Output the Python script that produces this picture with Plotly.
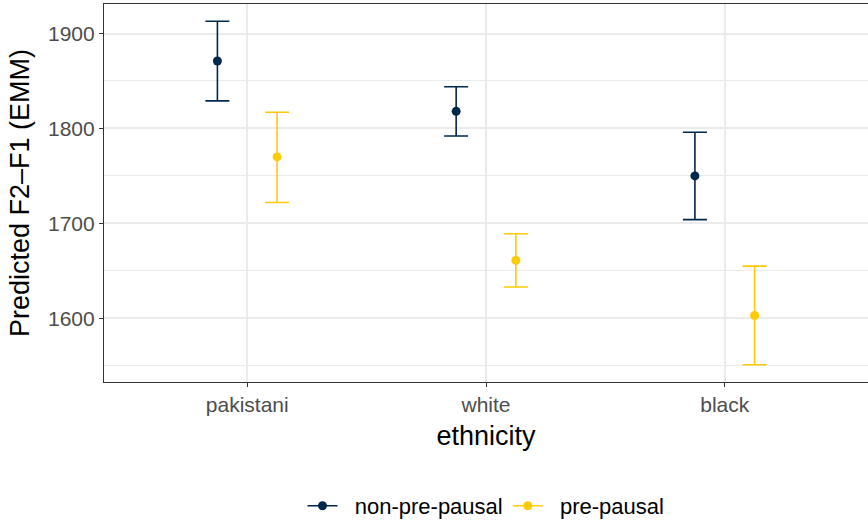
import plotly.graph_objects as go

categories = ["pakistani", "white", "black"]
groups = ["non-pre-pausal", "pre-pausal"]
emm = {
    "non-pre-pausal": [1871, 1818, 1750],
    "pre-pausal": [1770, 1661, 1603],
}
lower = {
    "non-pre-pausal": [1829, 1792, 1704],
    "pre-pausal": [1722, 1633, 1551],
}
upper = {
    "non-pre-pausal": [1913, 1844, 1796],
    "pre-pausal": [1817, 1689, 1655],
}
colors = {"non-pre-pausal": "#00274C", "pre-pausal": "#FFCB05"}
offsets = {"non-pre-pausal": -0.125, "pre-pausal": 0.125}

FONT = "Liberation Sans, Arial, Helvetica, sans-serif"

fig = go.Figure()
for g in groups:
    xs = [i + offsets[g] for i in range(len(categories))]
    ys = emm[g]
    fig.add_trace(go.Scatter(
        x=xs, y=ys, mode="markers",
        marker=dict(color=colors[g], size=9),
        error_y=dict(type="data", symmetric=False,
                     array=[u - y for u, y in zip(upper[g], ys)],
                     arrayminus=[y - l for l, y in zip(lower[g], ys)],
                     color=colors[g], thickness=1.6, width=12),
        showlegend=False, hoverinfo="skip",
    ))
for g in groups:
    fig.add_trace(go.Scatter(
        x=[None], y=[None], mode="lines+markers", name="\u00a0\u00a0" + g,
        line=dict(color=colors[g], width=1.6),
        marker=dict(color=colors[g], size=9),
    ))

fig.update_layout(
    width=868, height=520,
    margin=dict(l=104, r=0, t=4, b=138, autoexpand=False),
    paper_bgcolor="white", plot_bgcolor="white",
    font=dict(family=FONT, color="black"),
    legend=dict(orientation="h", x=0.5, xanchor="center",
                yref="container", y=1 - 506 / 520, yanchor="middle",
                font=dict(size=22, color="black"), itemwidth=30),
)
fig.update_xaxes(
    range=[-0.6, 2.6],
    tickmode="array", tickvals=list(range(len(categories))), ticktext=categories,
    tickfont=dict(size=21, color="#4D4D4D"),
    ticks="outside", ticklen=4, tickcolor="#333333", tickwidth=1.2,
    showline=True, linecolor="#333333", linewidth=1.2, mirror=True,
    showgrid=True, gridcolor="#EBEBEB", gridwidth=1.6,
    zeroline=False,
    title=dict(text="ethnicity", font=dict(size=27, color="black"), standoff=10),
)
fig.update_yaxes(
    range=[1532.9, 1931.1],
    tickmode="array", tickvals=[1600, 1700, 1800, 1900],
    tickfont=dict(size=21, color="#4D4D4D"),
    ticks="outside", ticklen=4, tickcolor="#333333", tickwidth=1.2,
    showline=True, linecolor="#333333", linewidth=1.2, mirror=True,
    showgrid=True, gridcolor="#EBEBEB", gridwidth=1.6,
    minor=dict(tickvals=[1550, 1650, 1750, 1850], showgrid=True, gridcolor="#EBEBEB", gridwidth=0.8, ticks=""),
    zeroline=False,
    title=dict(text="Predicted F2\u2013F1 (EMM)", font=dict(size=27, color="black"), standoff=10),
)

fig.write_html("out.html")
